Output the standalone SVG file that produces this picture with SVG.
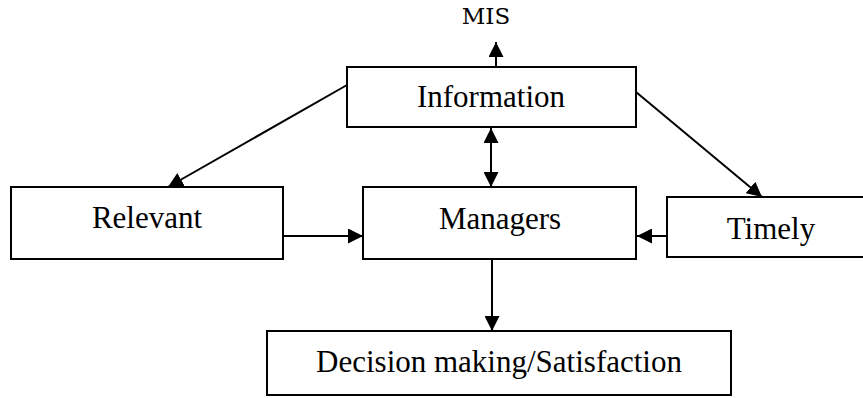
<svg xmlns="http://www.w3.org/2000/svg" width="863" height="398" viewBox="0 0 863 398">
<style>
.box{fill:#fff;stroke:#000;stroke-width:2}
.lbl{font-family:"Liberation Serif","Times New Roman",serif;font-size:31px;fill:#000;text-anchor:middle}
.mis{font-family:"DejaVu Serif",serif;font-size:23px;fill:#000;text-anchor:middle}
.con{stroke:#000;stroke-width:2;fill:none}
</style>
<defs>
<marker id="ah" markerUnits="userSpaceOnUse" markerWidth="15" markerHeight="15" refX="15" refY="7.5" orient="auto-start-reverse">
<path d="M0,0 L15,7.5 L0,15 z" fill="#000"/>
</marker>
</defs>
<rect width="863" height="398" fill="#fff"/>
<g id="connectors">
<line class="con" x1="496" y1="67" x2="496" y2="42" marker-end="url(#ah)"/>
<line class="con" x1="491" y1="128" x2="491" y2="187" marker-start="url(#ah)" marker-end="url(#ah)"/>
<line class="con" x1="283" y1="236" x2="363" y2="236" marker-end="url(#ah)"/>
<line class="con" x1="667" y1="236" x2="637" y2="236" marker-end="url(#ah)"/>
<line class="con" x1="492" y1="259" x2="492" y2="331" marker-end="url(#ah)"/>
<line class="con" x1="347" y1="85" x2="168" y2="187" marker-end="url(#ah)"/>
<line class="con" x1="636" y1="92" x2="762" y2="197" marker-end="url(#ah)"/>
</g>
<g id="mis"><text class="mis" x="486" y="24">MIS</text></g>
<g id="information"><rect class="box" x="347" y="67" width="289" height="60"/><text class="lbl" x="491" y="107">Information</text></g>
<g id="relevant"><rect class="box" x="11" y="187" width="272" height="72"/><text class="lbl" x="147" y="228">Relevant</text></g>
<g id="managers"><rect class="box" x="363" y="187" width="273" height="72"/><text class="lbl" x="500" y="229">Managers</text></g>
<g id="timely"><rect class="box" x="667" y="197" width="210" height="60"/><text class="lbl" x="771" y="239">Timely</text></g>
<g id="decision"><rect class="box" x="267" y="331" width="464" height="64"/><text class="lbl" x="499" y="372">Decision making/Satisfaction</text></g>
</svg>
